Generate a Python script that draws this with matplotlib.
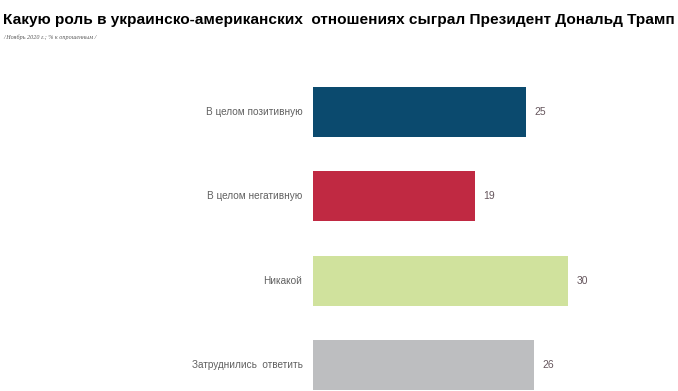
import matplotlib.pyplot as plt
import numpy as np

categories = ['В целом позитивную', 'В целом негативную', 'Никакой', 'Затруднились  ответить']
values = [25, 19, 30, 26]
colors = ['#0B4A6E', '#C02942', '#D0E29D', '#BDBEC0']

title = 'Какую роль в украинско-американских  отношениях сыграл Президент Дональд Трамп'
subtitle = '/ Ноябрь 2020 г.; % к опрошенным /'

plt.rcParams['font.family'] = ['Liberation Sans', 'DejaVu Sans']

W, H = 678, 391
fig = plt.figure(figsize=(W / 100, H / 100), dpi=100)
ax = fig.add_axes([313 / W, 0, 1 - 313 / W, (391 - 70) / H])

y = np.arange(len(categories))
ax.barh(y, values, height=0.593, color=colors)
ax.set_xlim(0, 365 / 8.5)
ax.set_ylim(3.308, -0.5)

for yi, v, c in zip(y, values, categories):
    ax.text(v + 1.0, yi, str(v), va='center', ha='left', fontsize=7.5, color='#65555c')
    ax.text(-1.25, yi, c, va='center', ha='right', fontsize=7.2, color='#606060')

ax.axis('off')

fig.text(3 / W, 1 - 20 / H, title, fontsize=11.1, fontweight='bold', va='center', ha='left', color='black')
fig.text(3 / W, 1 - 37 / H, subtitle, fontsize=4.4, style='italic', va='center', ha='left',
         color='#595959', family='Liberation Serif')

fig.savefig('out.png', dpi=100)
